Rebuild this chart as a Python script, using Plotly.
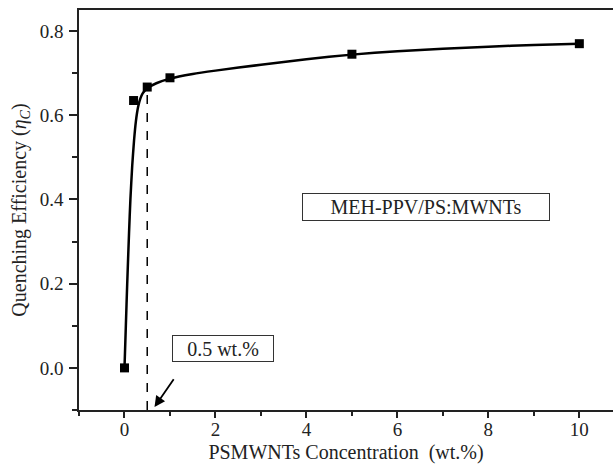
import plotly.graph_objects as go

# measured data
conc = [0, 0.2, 0.5, 1, 5, 10]
eff = [0.0, 0.635, 0.667, 0.689, 0.745, 0.770]

# fitted curve
fit_x = [0, 0.03, 0.06, 0.1, 0.13, 0.17, 0.21, 0.25, 0.3, 0.35, 0.4, 0.5, 0.7, 1, 1.5, 2, 3, 4, 5, 6, 7, 8, 9, 10]
fit_y = [0, 0.10, 0.20, 0.32, 0.40, 0.48, 0.54, 0.585, 0.62, 0.640, 0.652, 0.664, 0.676, 0.687, 0.698, 0.706, 0.720, 0.733, 0.744, 0.752, 0.758, 0.763, 0.767, 0.770]

x_ticks = [0, 2, 4, 6, 8, 10]
y_ticks = [0.0, 0.2, 0.4, 0.6, 0.8]

FONT = "Liberation Serif"

fig = go.Figure()
fig.add_trace(go.Scatter(x=fit_x, y=fit_y, mode="lines",
                         line=dict(color="black", width=2.5, shape="spline", smoothing=0.6),
                         hoverinfo="skip", showlegend=False))
fig.add_trace(go.Scatter(x=conc, y=eff, mode="markers",
                         marker=dict(symbol="square", size=9, color="black"),
                         showlegend=False))

fig.add_shape(type="line", x0=0.5, x1=0.5, y0=-0.1, y1=eff[2], xref="x", yref="y",
              line=dict(color="black", width=1.5, dash="dash"))

fig.add_annotation(x=0.66, y=-0.093, ax=1.17, ay=-0.013, xref="x", yref="y",
                   axref="x", ayref="y", text=" ", showarrow=True,
                   arrowhead=2, arrowsize=1.2, arrowwidth=1.8, arrowcolor="black")

fig.add_annotation(x=2.17, y=0.047, xref="x", yref="y", text="0.5 wt.%",
                   showarrow=False, font=dict(family=FONT, size=20, color="#222"),
                   bordercolor="#333", borderwidth=1, borderpad=0, bgcolor="white",
                   width=100, height=25)
fig.add_annotation(x=6.63, y=0.383, xref="x", yref="y", text="MEH-PPV/PS:MWNTs",
                   showarrow=False, font=dict(family=FONT, size=20, color="#222"),
                   bordercolor="#333", borderwidth=1, borderpad=0, bgcolor="white",
                   width=246, height=26)

fig.update_layout(
    width=613, height=466,
    margin=dict(l=79, r=0, t=10, b=56),
    paper_bgcolor="white", plot_bgcolor="white",
    font=dict(family=FONT, size=19, color="#222"),
    xaxis=dict(range=[-1, 10.74], tickvals=x_ticks, ticks="outside", ticklen=6, tickwidth=1.5,
               tickcolor="#222", showline=True, linecolor="#222", linewidth=1.5, mirror=True,
               showgrid=False, zeroline=False, tickfont=dict(size=19), ticklabelstandoff=-5,
               minor=dict(tickvals=[-1, 1, 3, 5, 7, 9], ticks="outside", ticklen=4, tickwidth=1.5, tickcolor="#222"),
               title=dict(text="PSMWNTs Concentration  (wt.%)", standoff=6, font=dict(size=20))),
    yaxis=dict(range=[-0.1, 0.85], tickvals=y_ticks, tickformat=".1f", ticks="outside", ticklen=8,
               tickwidth=1.5, tickcolor="#222", showline=True, linecolor="#222", linewidth=1.5,
               showgrid=False, zeroline=False, tickfont=dict(size=19), ticklabelstandoff=2,
               minor=dict(tickvals=[-0.1, 0.1, 0.3, 0.5, 0.7], ticks="outside", ticklen=5, tickwidth=1.5, tickcolor="#222"),
               title=dict(text="Quenching Efficiency (<i>η</i><sub><i>C</i></sub>)", standoff=8, font=dict(size=20))),
)

fig.write_html("out.html")
